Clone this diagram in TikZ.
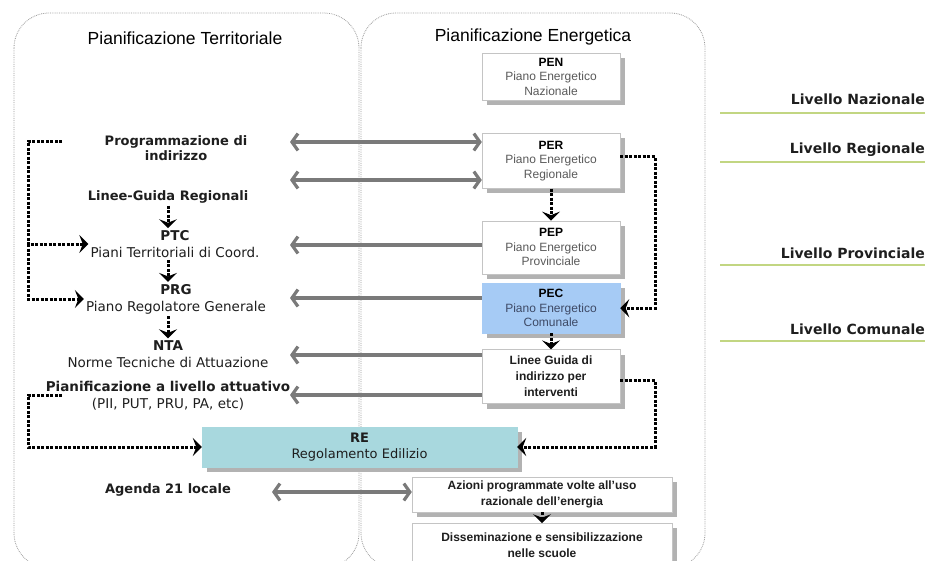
\documentclass[tikz,border=0pt]{standalone}
\usepackage{fontspec}
\setmainfont{Liberation Sans}
\newfontfamily\verd{DejaVu Sans}
\usepackage{tikz}
\usetikzlibrary{arrows.meta,positioning,shadows,calc}

\definecolor{arrgray}{HTML}{7A7A7A}
\definecolor{boxline}{HTML}{C4C4C4}
\definecolor{shgray}{HTML}{B2B2B2}
\definecolor{txtgray}{HTML}{5A5A5A}
\definecolor{txtdark}{HTML}{1E1E1E}
\definecolor{pecblue}{HTML}{A6CBF5}
\definecolor{pectxt}{HTML}{3E4A66}
\definecolor{reteal}{HTML}{A8D8DE}
\definecolor{lvgreen}{HTML}{C2D682}

\begin{document}
\begin{tikzpicture}[
    x=1pt, y=-1pt,
    % --- STYLES ---
    lane/.style={
        draw=gray!80, line width=0.8pt, densely dotted,
        rounded corners=35pt
    },
    title/.style={font=\fontsize{17.5}{20}\selectfont},
    plan/.style={
        rectangle, draw=boxline, fill=white,
        minimum width=138pt, minimum height=50pt,
        align=center, inner sep=2pt,
        text=txtgray, font=\fontsize{12}{14.5}\selectfont,
        drop shadow={shadow xshift=5pt, shadow yshift=-5pt, fill=shgray, opacity=1}
    },
    lbl/.style={
        align=center, inner sep=2pt, text=txtdark,
        font=\verd\fontsize{13.5}{17}\selectfont
    },
    head/.style={lbl, font=\verd\bfseries\fontsize{13}{15}\selectfont},
    level/.style={
        anchor=east, inner sep=0pt, text=txtdark,
        font=\verd\bfseries\fontsize{14}{16}\selectfont
    },
    lvline/.style={draw=lvgreen, line width=1.3pt},
    flow/.style={
        line width=3pt, dash pattern=on 3pt off 1.5pt,
        -{Stealth[length=9pt, width=18pt, inset=3.5pt]}
    },
    link/.style={
        draw=arrgray, line width=3.2pt,
        -{Straight Barb[length=6pt, width=17pt]}
    },
    link2/.style={
        link,
        {Straight Barb[length=6pt, width=17pt]}-{Straight Barb[length=6pt, width=17pt]}
    }
]

\useasboundingbox (0,0) rectangle (925,560);

% ===== 1. COORDINATES & LANES =====
\def\xArr{290}
\def\xBr{28}
\def\xBrR{655}

\begin{scope}
\clip (0,0) rectangle (925,560);
\draw[lane] (14,13) rectangle (359,568);
\draw[lane] (361,13) rectangle (705,568);
\end{scope}

\node[title] (tTerr) at (185,38) {Pianificazione Territoriale};
\node[title] (tEner) at (533,37) {Pianificazione Energetica};

% ===== 2. ENERGY LANE NODES =====
\node[plan, minimum height=47pt] (pen) at (551,76.5)
    {\textcolor{black}{\textbf{PEN}}\\Piano Energetico\\Nazionale};
\node[plan, minimum height=55pt, below=33pt of pen] (per)
    {\textcolor{black}{\textbf{PER}}\\Piano Energetico\\Regionale};
\node[plan, minimum height=53pt, below=32pt of per] (pep)
    {\textcolor{black}{\textbf{PEP}}\\Piano Energetico\\Provinciale};
\node[plan, fill=pecblue, draw=pecblue, text=pectxt, below=9pt of pep] (pec)
    {\textcolor{black}{\textbf{PEC}}\\Piano Energetico\\Comunale};
\node[plan, minimum height=54pt, text=txtdark,
      font=\bfseries\fontsize{12}{16}\selectfont, below=16pt of pec] (lgd)
    {Linee Guida di\\indirizzo per\\interventi};

% Regolamento e azioni
\node[plan, fill=reteal, draw=reteal, text=txtdark,
      minimum width=315pt, minimum height=40pt,
      font=\verd\fontsize{13}{16}\selectfont] (re) at (359.5,447)
    {\textbf{RE}\\Regolamento Edilizio};
\node[plan, minimum width=260pt, minimum height=35pt, text=txtdark,
      font=\bfseries\fontsize{12}{16}\selectfont] (az) at (542,494.5)
    {Azioni programmate volte all'uso\\razionale dell'energia};
\node[plan, minimum width=260pt, minimum height=44pt, text=txtdark,
      font=\bfseries\fontsize{12}{16}\selectfont, below=11pt of az] (dis)
    {Disseminazione e sensibilizzazione\\nelle scuole};

% ===== 3. TERRITORIAL LANE NODES =====
\node[head] (prog) at (176,148) {Programmazione di\\indirizzo};
\node[head] (lgr) at (168,197) {Linee-Guida Regionali};
\node[lbl] (ptc) at (175,244) {\textbf{PTC}\\Piani Territoriali di Coord.};
\node[lbl] (prg) at (176,299) {\textbf{PRG}\\Piano Regolatore Generale};
\node[lbl] (nta) at (168,354) {\textbf{NTA}\\Norme Tecniche di Attuazione};
\node[lbl] (att) at (168,396) {\textbf{Pianificazione a livello attuativo}\\(PII, PUT, PRU, PA, etc)};
\node[head] (ag21) at (168,490) {Agenda 21 locale};

% ===== 4. LEVELS =====
\node[level] (lvN) at (925,99) {Livello Nazionale};
\node[level] (lvR) at (925,150) {Livello Regionale};
\node[level] (lvP) at (925,253) {Livello Provinciale};
\node[level] (lvC) at (925,329) {Livello Comunale};
\draw[lvline] (720,113) -- (925,113);
\draw[lvline] (720,162) -- (925,162);
\draw[lvline] (720,265) -- (925,265);
\draw[lvline] (720,341) -- (925,341);

% ===== 5. CONNECTIONS =====

% -- Gray links between lanes --
\coordinate (g1) at (\xArr,142);
\coordinate (g2) at (\xArr,180);
\coordinate (g3) at (\xArr,245);
\coordinate (g4) at (\xArr,298);
\coordinate (g5) at (\xArr,355);
\coordinate (g6) at (\xArr,395);
\coordinate (g7) at (272,492);

\draw[link2] (g1) -- (g1 -| per.west);
\draw[link2] (g2) -- (g2 -| per.west);
\draw[link] (g3 -| pep.west) -- (g3);
\draw[link] (g4 -| pec.west) -- (g4);
\draw[link] (g5 -| lgd.west) -- (g5);
\draw[link] (g6 -| lgd.west) -- (g6);
\draw[link2] (g7) -- (g7 -| az.west);

% -- Dotted flow, territorial --
\draw[flow] (lgr.south) -- (lgr.south |- ptc.north);
\draw[flow] (lgr.south |- ptc.south) -- (lgr.south |- prg.north);
\draw[flow] (lgr.south |- prg.south) -- (lgr.south |- nta.north);

\coordinate (d1) at (62,141);
\coordinate (br) at (\xBr,244);
\draw[flow] (d1) -| (br) -- (ptc.west);
\draw[flow] (br) |- (prg.west);

\coordinate (d2) at (62,395);
\draw[flow] (d2) -| (re.west -| br) -- (re.west);

% -- Dotted flow, energy --
\coordinate (rb) at (\xBrR,0);
\draw[flow] (per.south) -- (pep.north);
\draw[flow] (pec.south) -- (lgd.north);
\draw[flow] (az.south) -- (dis.north);
\draw[flow] ([yshift=4pt]per.east) -| (pec.east -| rb) -- (pec.east);
\draw[flow] ([yshift=-4pt]lgd.east) -| (re.east -| rb) -- (re.east);

\end{tikzpicture}
\end{document}
